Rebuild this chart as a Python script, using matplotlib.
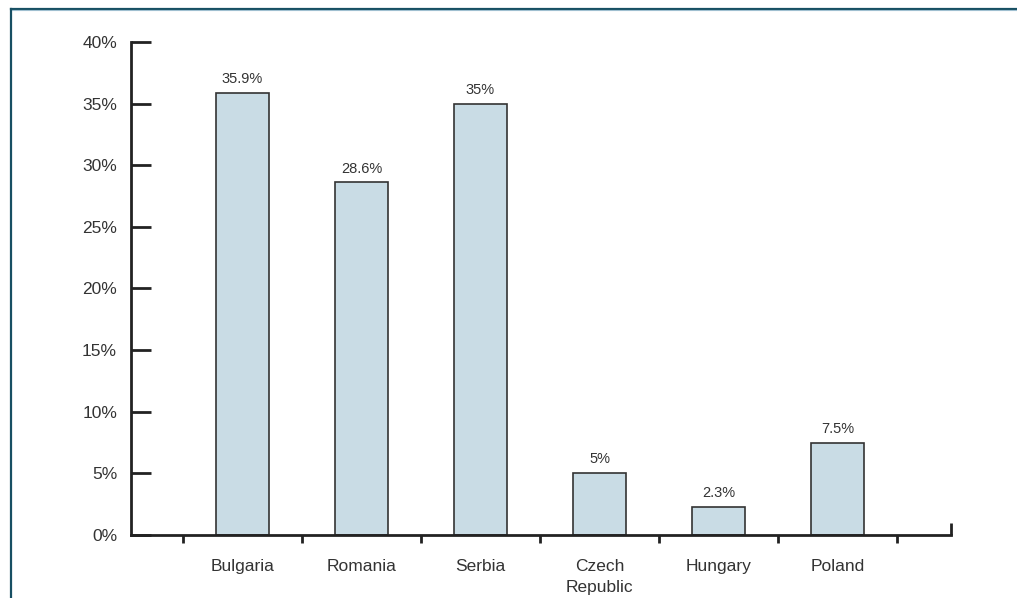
import numpy as np
import matplotlib.pyplot as plt
from matplotlib.lines import Line2D
from matplotlib.ticker import FuncFormatter

countries = ["Bulgaria", "Romania", "Serbia", "Czech\nRepublic", "Hungary", "Poland"]
shares = [35.9, 28.6, 35.0, 5.0, 2.3, 7.5]
share_labels = ["35.9%", "28.6%", "35%", "5%", "2.3%", "7.5%"]
y_ticks = [0, 5, 10, 15, 20, 25, 30, 35, 40]

plt.rcParams["font.family"] = ["Liberation Sans", "DejaVu Sans"]
text_color = "#333333"
axis_color = "#222222"

fig = plt.figure(figsize=(10.17, 5.98), dpi=100)
ax = fig.add_axes([0.1288, 0.1054, 0.8063, 0.8244])

x = np.arange(len(countries))
ax.bar(x, shares, width=0.44, color="#c9dce5", edgecolor="#333333", linewidth=1.2, zorder=2)

for xi, v, lab in zip(x, shares, share_labels):
    ax.annotate(lab, (xi, v), xytext=(0, 5), textcoords="offset points",
                ha="center", va="bottom", fontsize=10.5, color=text_color)

ax.set_xlim(-0.937, 5.954)
ax.set_ylim(0, 40)

# axes: left spine and bottom spine only
for side in ("top", "right"):
    ax.spines[side].set_visible(False)
for side in ("left", "bottom"):
    ax.spines[side].set_linewidth(2.0)
    ax.spines[side].set_color(axis_color)

ax.set_yticks(y_ticks)
ax.yaxis.set_major_formatter(FuncFormatter(lambda v, _: f"{v:.0f}%"))
ax.tick_params(axis="y", direction="in", length=14.5, width=2.0, color=axis_color,
               labelsize=12.5, labelcolor=text_color, pad=10)

ax.set_xticks(x)
ax.set_xticklabels(countries)
ax.set_xticks(np.arange(-0.5, len(countries)), minor=True)
ax.tick_params(axis="x", which="major", length=0, labelsize=12.5,
               labelcolor=text_color, pad=17, labelbottom=True)
ax.tick_params(axis="x", which="minor", direction="out", length=5.8, width=2.0,
               color=axis_color)
for t in ax.get_xticklabels():
    t.set_linespacing(1.55)

# closing tick at the right end of the category axis
ax.plot([5.954, 5.954], [0, 1.0], color=axis_color, linewidth=2.0, clip_on=False,
        solid_capstyle="butt", zorder=3)

# frame lines along the top and left edge
fig.add_artist(Line2D([11 / 1017, 1], [1 - 8.5 / 598, 1 - 8.5 / 598], color="#174f63", linewidth=1.6))
fig.add_artist(Line2D([11 / 1017, 1], [1 - 10 / 598, 1 - 10 / 598], color="#9fbfd0", linewidth=0.8))
fig.add_artist(Line2D([11 / 1017, 11 / 1017], [0, 1 - 8.5 / 598], color="#174f63", linewidth=1.6))

fig.savefig("out.png", dpi=100)
